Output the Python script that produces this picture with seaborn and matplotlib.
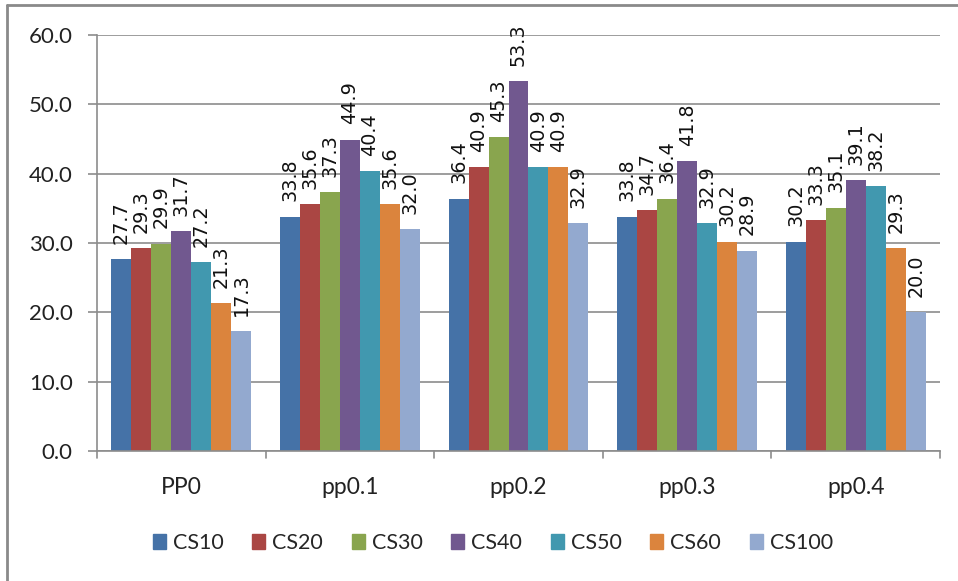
import matplotlib
matplotlib.use("Agg")
import matplotlib.pyplot as plt
from matplotlib.lines import Line2D
import seaborn as sns
import pandas as pd

groups = ["PP0", "pp0.1", "pp0.2", "pp0.3", "pp0.4"]
series = ["CS10", "CS20", "CS30", "CS40", "CS50", "CS60", "CS100"]
cs10 = [27.7, 33.8, 36.4, 33.8, 30.2]
cs20 = [29.3, 35.6, 40.9, 34.7, 33.3]
cs30 = [29.9, 37.3, 45.3, 36.4, 35.1]
cs40 = [31.7, 44.9, 53.3, 41.8, 39.1]
cs50 = [27.2, 40.4, 40.9, 32.9, 38.2]
cs60 = [21.3, 35.6, 40.9, 30.2, 29.3]
cs100 = [17.3, 32.0, 32.9, 28.9, 20.0]
colors = ["#4572A7", "#AA4643", "#89A54E", "#71588F", "#4198AF", "#DB843D", "#93A9CF"]

values = [cs10, cs20, cs30, cs40, cs50, cs60, cs100]
df = pd.DataFrame(
    [(g, s, v) for s, vals in zip(series, values) for g, v in zip(groups, vals)],
    columns=["group", "series", "value"],
)

sns.set_theme(style="white")
label_font = ["Lato", "DejaVu Sans"]

fig = plt.figure(figsize=(9.58, 5.81), dpi=100)
ax = fig.add_axes([97 / 958, 1 - 451 / 581, 843 / 958, 416 / 581])

sns.barplot(
    data=df, x="group", y="value", hue="series", order=groups, hue_order=series,
    palette=colors, width=0.83, saturation=1, ax=ax, legend=False,
    linewidth=0, errorbar=None,
)

# rotated value labels above each bar
for cont in ax.containers:
    for bar in cont:
        h = bar.get_height()
        ax.annotate(
            f"{h:.1f}", (bar.get_x() + bar.get_width() / 2, h),
            xytext=(0, 11), textcoords="offset points",
            rotation=90, ha="center", va="bottom",
            fontsize=13.8, family="DejaVu Sans", color="#111111",
        )

ax.set_ylim(0, 60)
ax.set_xlim(-0.5, 4.5)
ax.set_yticks(range(0, 61, 10))
ax.set_yticklabels([f"{v:.1f}" for v in range(0, 61, 10)], family=label_font, fontsize=16)
ax.set_xticklabels(groups, family=label_font, fontsize=16.5)
ax.set_xlabel("")
ax.set_ylabel("")
ax.yaxis.grid(True, color="#8c8c8c", linewidth=1.2)
ax.set_axisbelow(True)

for side in ["top", "right"]:
    ax.spines[side].set_visible(False)
for side in ["left", "bottom"]:
    ax.spines[side].set_color("#8c8c8c")
    ax.spines[side].set_linewidth(1.2)

ax.tick_params(axis="y", left=True, length=6.5, color="#8c8c8c", width=1.2, pad=11, labelcolor="#222222")
ax.tick_params(axis="x", bottom=False, pad=13, labelcolor="#222222")

# category separators on the x axis
for b in [-0.5, 0.5, 1.5, 2.5, 3.5, 4.5]:
    ax.plot([b, b], [0, -0.018], transform=ax.get_xaxis_transform(), color="#8c8c8c",
            linewidth=1.2, clip_on=False)

handles = [plt.Rectangle((0, 0), 1, 1, color=c) for c in colors]
fig.legend(
    handles, series, loc="center", bbox_to_anchor=(493 / 958, 1 - 543 / 581),
    ncol=7, frameon=False, handlelength=0.6, handleheight=0.65, handletextpad=0.33,
    columnspacing=1.33, prop={"family": label_font, "size": 15.5},
)

# outer frame lines along top and left edges
fig.add_artist(Line2D([7 / 958, 1], [1 - 5 / 581, 1 - 5 / 581], color="#8a8a8a", linewidth=2))
fig.add_artist(Line2D([7 / 958, 7 / 958], [0, 1 - 5 / 581], color="#8a8a8a", linewidth=2))

fig.savefig("out.png", dpi=100)
